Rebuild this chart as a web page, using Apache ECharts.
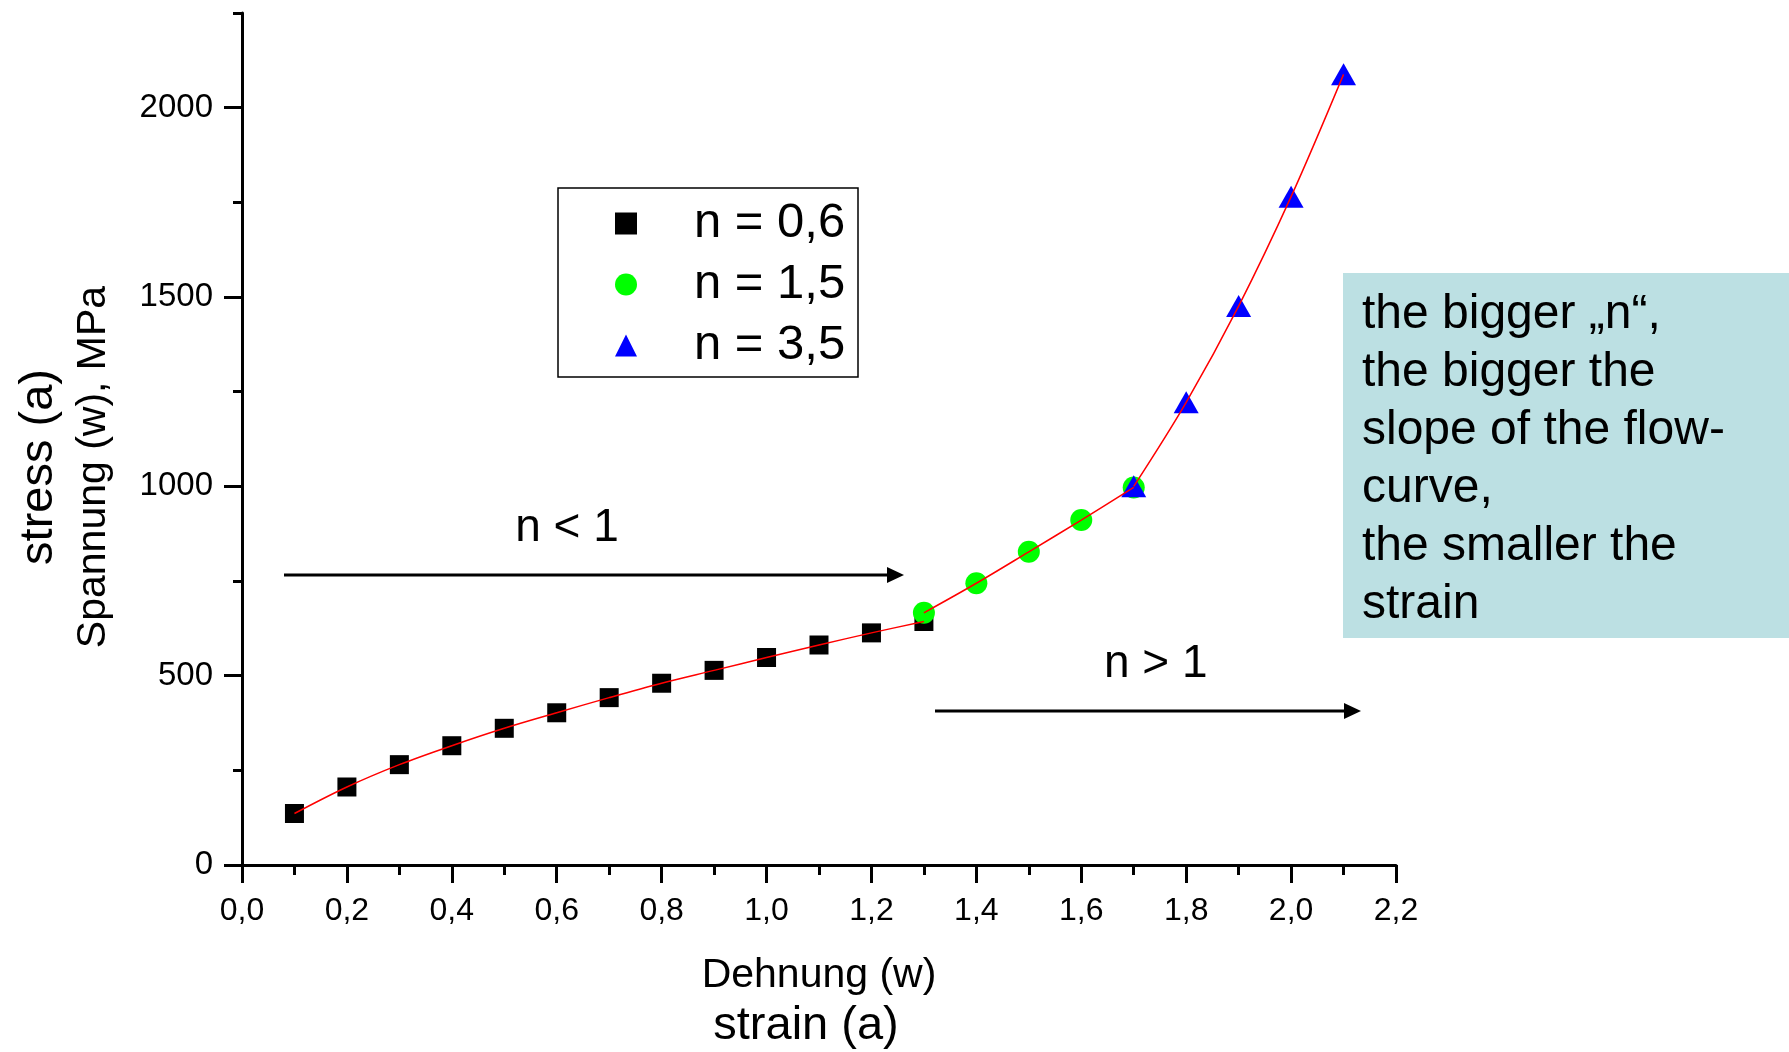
<!DOCTYPE html>
<html><head><meta charset="utf-8">
<script src="https://cdn.jsdelivr.net/npm/echarts@6/dist/echarts.min.js"></script>
<style>html,body{margin:0;padding:0;background:#fff}#c{width:1789px;height:1052px}</style>
</head><body><div id="c"></div>
<script>
const FONT = "'Liberation Sans', Arial, Helvetica, sans-serif";
// ---- data ----
const seriesNames = ['n = 0,6', 'n = 1,5', 'n = 3,5'];
const strain06 = [0.1, 0.2, 0.3, 0.4, 0.5, 0.6, 0.7, 0.8, 0.9, 1.0, 1.1, 1.2, 1.3];
const stress06 = [136, 206, 265, 315, 361, 402, 442, 480, 514, 548, 581, 613, 643];
const strain15 = [1.3, 1.4, 1.5, 1.6, 1.7];
const stress15 = [666, 744, 827, 911, 997];
const strain35 = [1.7, 1.8, 1.9, 2.0, 2.1];
const stress35 = [1000, 1222, 1476, 1765, 2088];
const yMajorTicks = [0, 500, 1000, 1500, 2000];
const xAxisTitle = ['Dehnung (w)', 'strain (a)'];
const yAxisTitle = ['stress (a)', 'Spannung (w), MPa'];
const noteLines = ['the bigger \u201En\u201C,', 'the bigger the', 'slope of the flow-', 'curve,', 'the smaller the', 'strain'];
const regionLabels = ['n < 1', 'n > 1'];

const pairs = (xs, ys) => xs.map((x, i) => [x, ys[i]]);
const d06 = pairs(strain06, stress06);
const d15 = pairs(strain15, stress15);
const d35 = pairs(strain35, stress35);

const chart = echarts.init(document.getElementById('c'), null, {renderer: 'canvas'});
const black = '#000000';

const scatterBase = {type: 'scatter', z: 2, silent: true};
const fitBase = {type: 'line', showSymbol: false, smooth: 0.35, z: 5, silent: true,
  lineStyle: {color: '#FF0000', width: 1.5}, itemStyle: {color: '#FF0000'}};

chart.setOption({
  animation: false,
  backgroundColor: '#ffffff',
  textStyle: {fontFamily: FONT},
  grid: {left: 242, right: 393, top: 13, bottom: 187, containLabel: false, outerBoundsMode: 'none'},
  xAxis: {
    type: 'value', min: 0, max: 2.2, interval: 0.2,
    axisLine: {show: true, lineStyle: {color: black, width: 3}},
    axisTick: {show: true, length: 18, lineStyle: {color: black, width: 3}},
    minorTick: {show: true, splitNumber: 2, length: 10, lineStyle: {color: black, width: 3}},
    splitLine: {show: false},
    axisLabel: {margin: 30, fontSize: 32, color: black, fontFamily: FONT,
      formatter: v => v.toFixed(1).replace('.', ',')},
    name: '{a|' + xAxisTitle[0] + '}\n{b|' + xAxisTitle[1] + '}',
    nameLocation: 'middle', nameGap: 87,
    nameTextStyle: {color: black, fontFamily: FONT, rich: {
      a: {fontSize: 41, lineHeight: 48, fontFamily: FONT, color: black},
      b: {fontSize: 47, lineHeight: 52, fontFamily: FONT, color: black, padding: [0, 26, 0, 0]}
    }}
  },
  yAxis: [{
    type: 'value', min: 0, max: 2250, interval: 250, position: 'left',
    axisLine: {show: true, lineStyle: {color: black, width: 3}},
    axisTick: {show: true, length: 9, lineStyle: {color: black, width: 3}},
    axisLabel: {show: false},
    splitLine: {show: false}
  }, {
    type: 'value', min: 0, max: 2250, interval: 250, position: 'left',
    axisLine: {show: false},
    axisTick: {show: true, length: 18, customValues: yMajorTicks, lineStyle: {color: black, width: 3}},
    axisLabel: {show: true, customValues: yMajorTicks, margin: 29, fontSize: 33, color: black, fontFamily: FONT,
      formatter: v => String(Math.round(v))},
    splitLine: {show: false},
    name: '{a|' + yAxisTitle[0] + '}\n{b|' + yAxisTitle[1] + '}',
    nameLocation: 'middle', nameRotate: 90, nameGap: 121,
    nameTextStyle: {color: black, fontFamily: FONT, rich: {
      a: {fontSize: 47, lineHeight: 56, fontFamily: FONT, color: black, padding: [0, 56, 0, 0]},
      b: {fontSize: 41, lineHeight: 54, fontFamily: FONT, color: black, padding: [0, 56, 0, 0]}
    }}
  }],
  legend: {
    data: seriesNames, orient: 'vertical', left: 615, top: 199, padding: 0,
    itemGap: 12, itemWidth: 22, itemHeight: 22, selectedMode: false,
    textStyle: {fontSize: 49, lineHeight: 49, color: black, fontFamily: FONT, padding: [0, 0, 0, 52]}
  },
  series: [
    Object.assign({}, scatterBase, {name: seriesNames[0], data: d06, symbol: 'rect', symbolSize: 19, itemStyle: {color: '#000000', opacity: 1}}),
    Object.assign({}, scatterBase, {name: seriesNames[1], data: d15, symbol: 'circle', symbolSize: 22, itemStyle: {color: '#00FF00', opacity: 1}}),
    Object.assign({}, scatterBase, {name: seriesNames[2], data: d35, symbol: 'triangle', symbolSize: [25, 22], itemStyle: {color: '#0000FF', opacity: 1}}),
    Object.assign({}, fitBase, {name: 'fit06', data: d06}),
    Object.assign({}, fitBase, {name: 'fit15', data: d15}),
    Object.assign({}, fitBase, {name: 'fit35', data: d35})
  ],
  graphic: [
    // legend frame
    {type: 'rect', silent: true, z: 1, shape: {x: 558, y: 188, width: 300, height: 189},
      style: {fill: 'none', stroke: '#000', lineWidth: 1.5}},
    // arrow n < 1
    {type: 'line', silent: true, shape: {x1: 284, y1: 575, x2: 890, y2: 575}, style: {stroke: '#000', lineWidth: 3}},
    {type: 'polygon', silent: true, shape: {points: [[887, 567], [904, 575], [887, 583]]}, style: {fill: '#000'}},
    {type: 'text', silent: true, style: {text: regionLabels[0], x: 567, y: 528, align: 'center', verticalAlign: 'middle',
      fontSize: 46, fontFamily: FONT, fill: '#000'}},
    // arrow n > 1
    {type: 'line', silent: true, shape: {x1: 935, y1: 711, x2: 1346, y2: 711}, style: {stroke: '#000', lineWidth: 3}},
    {type: 'polygon', silent: true, shape: {points: [[1344, 703], [1361, 711], [1344, 719]]}, style: {fill: '#000'}},
    {type: 'text', silent: true, style: {text: regionLabels[1], x: 1104, y: 664, align: 'left', verticalAlign: 'middle',
      fontSize: 46, fontFamily: FONT, fill: '#000'}},
    // note box
    {type: 'rect', silent: true, z: 0, shape: {x: 1343, y: 273, width: 446, height: 365}, style: {fill: '#BCE0E3'}},
    {type: 'text', silent: true, z: 1, style: {text: noteLines.join('\n'), x: 1362, y: 286, align: 'left', verticalAlign: 'top',
      fontSize: 48, lineHeight: 58, fontFamily: FONT, fill: '#000'}}
  ]
});
</script>
</body></html>
